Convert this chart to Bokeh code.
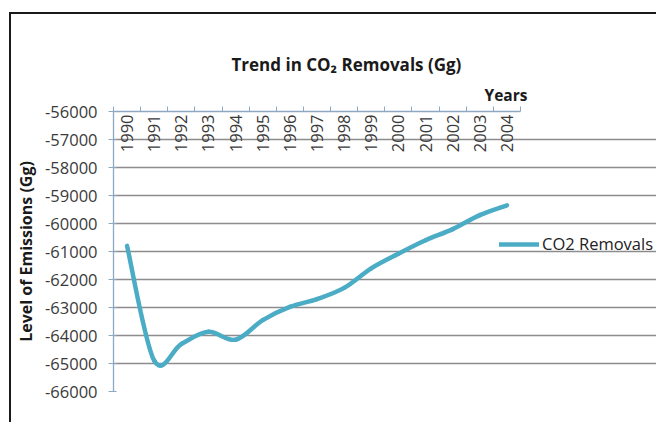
import math
from bokeh.plotting import figure
from bokeh.models import (Range1d, LinearAxis, FixedTicker, NumeralTickFormatter,
                          Title, Legend, LegendItem, ColumnDataSource)
from bokeh.core.properties import value
from bokeh.embed import file_html
from bokeh.resources import INLINE

# ---------------- data ----------------
years = ["1990", "1991", "1992", "1993", "1994", "1995", "1996", "1997",
         "1998", "1999", "2000", "2001", "2002", "2003", "2004"]
removals = [-60800, -64900, -64300, -63870, -64150, -63450, -62980, -62700,
            -62300, -61600, -61080, -60600, -60200, -59700, -59350]
y_ticks = [-66000, -65000, -64000, -63000, -62000, -61000, -60000,
           -59000, -58000, -57000, -56000]

title_text = "Trend in CO\u2082 Removals (Gg)"
x_title = "Years"
y_title = "Level of Emissions (Gg)"
series_name = "CO2 Removals"

# ---------------- styles / layout ----------------
FONT = "Open Sans"
LINE_COLOR = "#4BACC6"
AXIS_COLOR = "#8EA8C3"
GRID_COLOR = "#8C8C8C"
TEXT_COLOR = "#3A3A3A"
LABEL_SIZE = "16.5px"
PLOT_W = 407      # width of the gridded plot area, px
FRAME_W = 543     # frame incl. room on the right for the legend, px

n = len(years)
xs = list(range(n))
x_lo = -0.5
x_hi = x_lo + n * FRAME_W / PLOT_W

p = figure(width=647, height=410,
           x_range=Range1d(x_lo, x_hi),
           y_range=Range1d(y_ticks[0], y_ticks[-1]),
           output_backend="svg", toolbar_location=None,
           x_axis_location=None, y_axis_location="left",
           min_border_left=102, min_border_right=2,
           min_border_top=97, min_border_bottom=33)
p.styles = {"margin-left": "9px", "margin-top": "12px",
            "border-left": "2px solid #1a1a1a", "border-top": "2px solid #1a1a1a"}
p.outline_line_color = None
p.background_fill_color = "white"
p.border_fill_color = "white"

# y axis
ya = p.yaxis[0]
ya.ticker = FixedTicker(ticks=y_ticks)
ya.formatter = NumeralTickFormatter(format="0")
ya.axis_line_color = AXIS_COLOR
ya.axis_line_width = 1.3
ya.major_tick_line_color = AXIS_COLOR
ya.major_tick_in = 3
ya.major_tick_out = 5
ya.minor_tick_line_color = None
ya.major_label_standoff = 11
ya.major_label_text_font = FONT
ya.major_label_text_font_size = LABEL_SIZE
ya.major_label_text_color = TEXT_COLOR
ya.axis_label = y_title
ya.axis_label_text_font = FONT
ya.axis_label_text_font_style = "bold"
ya.axis_label_text_font_size = "16px"
ya.axis_label_text_color = "#1a1a1a"
ya.axis_label_standoff = 5

# grid, limited to the category span
p.xgrid.visible = False
p.ygrid.ticker = FixedTicker(ticks=y_ticks)
p.ygrid.bounds = (x_lo, n - 0.5)
p.ygrid.grid_line_color = GRID_COLOR
p.ygrid.grid_line_width = 1.3

# top category axis: tick marks between categories (minor ticks only)
top_axis = LinearAxis(ticker=FixedTicker(ticks=[], minor_ticks=[i - 0.5 for i in range(n + 1)]),
                      bounds=(x_lo, n - 0.5),
                      major_label_standoff=0,
                      major_tick_in=0, major_tick_out=0,
                      minor_tick_in=0, minor_tick_out=5,
                      axis_line_color=AXIS_COLOR, axis_line_width=1.3,
                      major_tick_line_color=None,
                      minor_tick_line_color=AXIS_COLOR)
p.add_layout(top_axis, "above")

years_title = Title(text=x_title, align="left", offset=371,
                    text_font=FONT, text_font_style="bold",
                    text_font_size="15.5px", text_color="#1a1a1a", standoff=2)
p.add_layout(years_title, "above")

p.title.text = title_text
p.title.align = "left"
p.title.offset = 118
p.title.text_font = FONT
p.title.text_font_style = "bold"
p.title.text_font_size = "17px"
p.title.text_color = "#1a1a1a"
p.title.standoff = 10

# year labels hanging from the top axis into the plot
p.text(x=xs, y=[y_ticks[-1]] * n, text=years, angle=math.pi / 2,
       text_align="right", text_baseline="middle", y_offset=3,
       text_font=value(FONT), text_font_size=LABEL_SIZE, text_color=TEXT_COLOR)

# smoothed line (Catmull-Rom style bezier segments through the data points)
seg = dict(x0=[], y0=[], x1=[], y1=[], cx0=[], cy0=[], cx1=[], cy1=[])
for i in range(n - 1):
    a = max(i - 1, 0)
    d = min(i + 2, n - 1)
    seg["x0"].append(xs[i]); seg["y0"].append(removals[i])
    seg["x1"].append(xs[i + 1]); seg["y1"].append(removals[i + 1])
    seg["cx0"].append(xs[i] + (xs[i + 1] - xs[a]) / 6)
    seg["cy0"].append(removals[i] + (removals[i + 1] - removals[a]) / 6)
    seg["cx1"].append(xs[i + 1] - (xs[d] - xs[i]) / 6)
    seg["cy1"].append(removals[i + 1] - (removals[d] - removals[i]) / 6)
src = ColumnDataSource(seg)
r = p.bezier(x0="x0", y0="y0", x1="x1", y1="y1", cx0="cx0", cy0="cy0",
             cx1="cx1", cy1="cy1", source=src, line_color=LINE_COLOR,
             line_width=4.5, line_cap="round")

legend = Legend(items=[LegendItem(label=series_name, renderers=[r])],
                location=(386, 136), glyph_width=40, glyph_height=20,
                label_standoff=3, padding=0, margin=0, spacing=0,
                border_line_color=None, background_fill_alpha=0,
                label_text_font=FONT, label_text_font_size=LABEL_SIZE,
                label_text_color="#222222")
p.add_layout(legend)

open("out.html", "w").write(file_html(p, INLINE))
